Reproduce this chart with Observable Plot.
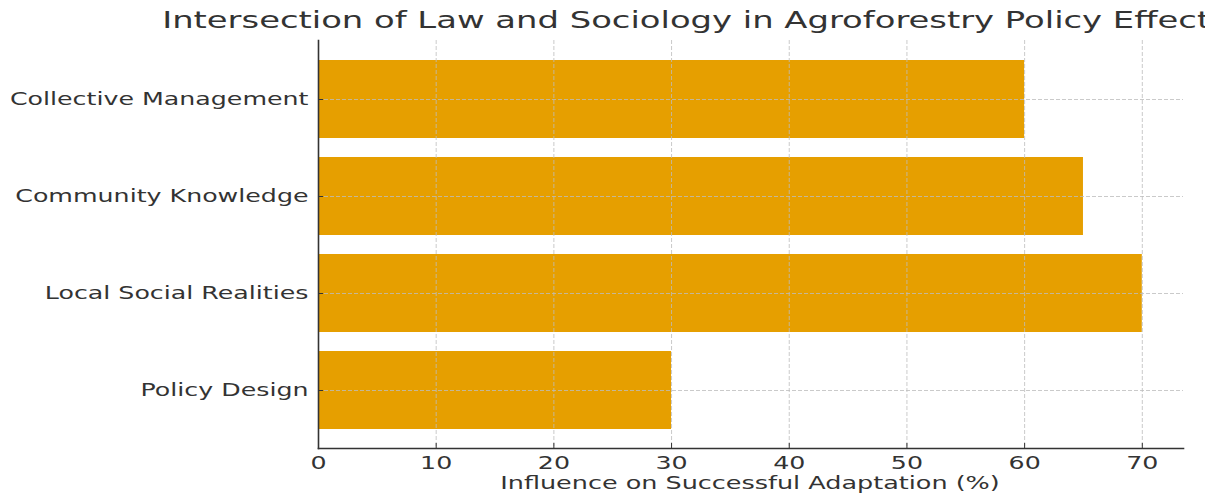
<!DOCTYPE html>
<html>
<head>
<meta charset="utf-8">
<script src="https://cdn.jsdelivr.net/npm/d3@7"></script>
<script src="https://cdn.jsdelivr.net/npm/@observablehq/plot@0.6"></script>
<style>
  html, body { margin: 0; padding: 0; background: #fff; }
  #wrap { position: relative; width: 1218px; height: 495px; overflow: hidden; font-family: "DejaVu Sans", sans-serif; color: #333; }
  #titleClip { position: absolute; left: 0; top: 0; width: 1205px; height: 40px; overflow: hidden; }
  .label { position: absolute; white-space: nowrap; transform-origin: center; line-height: 1; }
  #title { left: 750px; top: 9px; font-size: 23px; transform: translateX(-50%) scaleX(1.47); }
  #xlabel { left: 750px; top: 474px; font-size: 18px; transform: translateX(-50%) scaleX(1.415); }
</style>
</head>
<body>
<div id="wrap">
  <div id="chart"></div>
  <div id="titleClip"><div id="title" class="label"></div></div>
  <div id="xlabel" class="label"></div>
</div>
<script>
const title = "Intersection of Law and Sociology in Agroforestry Policy Effectiveness";
const xLabel = "Influence on Successful Adaptation (%)";
const categories = ["Collective Management", "Community Knowledge", "Local Social Realities", "Policy Design"];
const influence = [60, 65, 70, 30];
const xTicks = [0, 10, 20, 30, 40, 50, 60, 70];

const rows = categories.map((category, i) => ({category, value: influence[i]}));
const textStretch = 1.405;
const gridStyle = {stroke: "#bdbdbd", strokeOpacity: 0.8, strokeWidth: 1, strokeDasharray: "4,2"};

const chart = Plot.plot({
  width: 1218,
  height: 495,
  marginLeft: 318,
  marginRight: 35,
  marginTop: 40,
  marginBottom: 47,
  style: {fontFamily: "DejaVu Sans, sans-serif", fontSize: "18px", color: "#333", background: "#fff"},
  x: {domain: [0, 73.5]},
  y: {domain: categories, paddingInner: 0.2, paddingOuter: 0.19},
  marks: [
    Plot.barX(rows, {x: "value", y: "category", fill: "#E69F00"}),
    Plot.gridX(xTicks, gridStyle),
    Plot.gridY(categories, gridStyle),
    Plot.axisX({ticks: xTicks, tickSize: -5, tickPadding: 13, label: null, stroke: "#333", fill: "#333", fontSize: 18}),
    Plot.axisY({tickSize: -5, tickPadding: 15, label: null, stroke: "#333", fill: "#333", fontSize: 18}),
    Plot.frame({anchor: "left", stroke: "#333", strokeWidth: 1.6}),
    Plot.frame({anchor: "bottom", stroke: "#333", strokeWidth: 1.6})
  ]
});

// Widen tick label glyphs around their anchor points
chart.querySelectorAll("text").forEach((t) => {
  const tr = t.getAttribute("transform");
  if (tr && tr.includes("translate")) {
    t.setAttribute("transform", tr + ` scale(${textStretch},1)`);
  } else {
    const x = +(t.getAttribute("x") || 0);
    t.removeAttribute("x");
    t.setAttribute("transform", `translate(${x},0) scale(${textStretch},1)`);
  }
});

document.getElementById("chart").appendChild(chart);
document.getElementById("title").textContent = title;
document.getElementById("xlabel").textContent = xLabel;
</script>
</body>
</html>
